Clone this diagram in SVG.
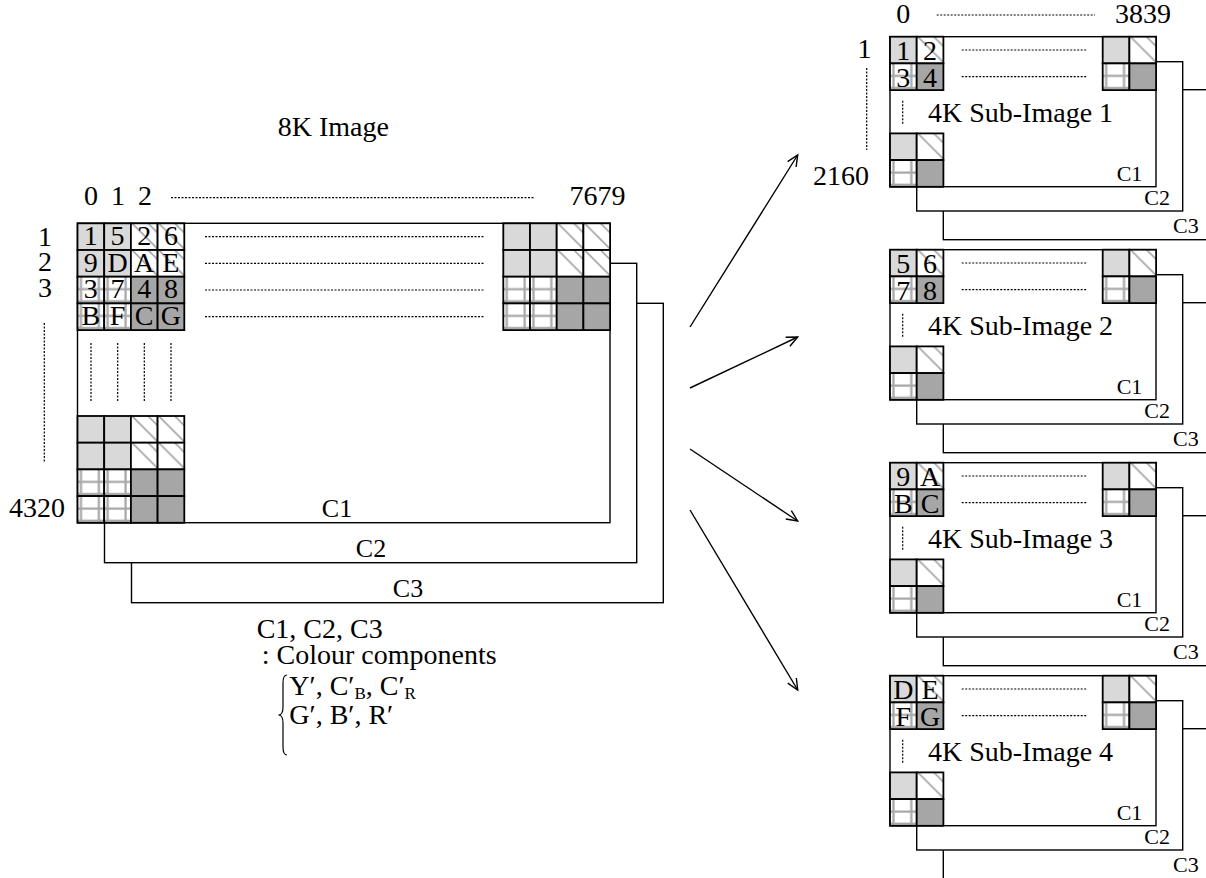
<svg xmlns="http://www.w3.org/2000/svg" xmlns:xlink="http://www.w3.org/1999/xlink" width="1206" height="878" viewBox="0 0 1206 878" font-family="Liberation Serif, Tinos, DejaVu Serif, serif">
<style>
text{font-family:'Liberation Serif','Tinos','DejaVu Serif',serif;fill:#000;font-size:28px}
.c{text-anchor:middle}
.e{text-anchor:end}
.sm{font-size:22px}
.m{font-size:26px}
.lg{fill:#d9d9d9;stroke:#000;stroke-width:1.8}
.dk{fill:#a6a6a6;stroke:#000;stroke-width:1.8}
.ht{fill:url(#hatch);stroke:#000;stroke-width:1.8}
.cr{fill:url(#cross);stroke:#000;stroke-width:1.8}
.fr{fill:#fff;stroke:#000;stroke-width:1.4}
.dot{fill:none;stroke:#000;stroke-width:1.2;stroke-dasharray:2 1.5}
.arr{fill:none;stroke:#000;stroke-width:1.4;marker-end:url(#ah)}
</style>
<defs>
<pattern id="hatch" patternUnits="objectBoundingBox" patternContentUnits="objectBoundingBox" width="1" height="1">
<rect x="0" y="0" width="1" height="1" fill="#fff"/>
<path d="M0.04,0 L1,0.96 M0.64,0 L1,0.36" stroke="#a0a0a0" stroke-width="0.06" fill="none"/>
</pattern>
<pattern id="cross" patternUnits="objectBoundingBox" patternContentUnits="objectBoundingBox" width="1" height="1">
<rect x="0" y="0" width="1" height="1" fill="#fff"/>
<path d="M0.13,0 V1 M0.8,0 V1 M0,0.47 H1 M0,0.92 H1" stroke="#a8a8a8" stroke-width="0.085" fill="none"/>
</pattern>
<marker id="ah" markerUnits="userSpaceOnUse" markerWidth="16" markerHeight="16" viewBox="-14 -8 16 16" refX="0" refY="0" orient="auto">
<path d="M-11,-5 L0,0 L-11,5" fill="none" stroke="#000" stroke-width="1.4"/>
</marker>
<g id="g4">
<rect class="lg" x="0" y="0" width="26.7" height="26.7"/>
<rect class="lg" x="26.7" y="0" width="26.7" height="26.7"/>
<rect class="ht" x="53.4" y="0" width="26.7" height="26.7"/>
<rect class="ht" x="80.1" y="0" width="26.7" height="26.7"/>
<rect class="lg" x="0" y="26.7" width="26.7" height="26.7"/>
<rect class="lg" x="26.7" y="26.7" width="26.7" height="26.7"/>
<rect class="ht" x="53.4" y="26.7" width="26.7" height="26.7"/>
<rect class="ht" x="80.1" y="26.7" width="26.7" height="26.7"/>
<rect class="cr" x="0" y="53.4" width="26.7" height="26.7"/>
<rect class="cr" x="26.7" y="53.4" width="26.7" height="26.7"/>
<rect class="dk" x="53.4" y="53.4" width="26.7" height="26.7"/>
<rect class="dk" x="80.1" y="53.4" width="26.7" height="26.7"/>
<rect class="cr" x="0" y="80.1" width="26.7" height="26.7"/>
<rect class="cr" x="26.7" y="80.1" width="26.7" height="26.7"/>
<rect class="dk" x="53.4" y="80.1" width="26.7" height="26.7"/>
<rect class="dk" x="80.1" y="80.1" width="26.7" height="26.7"/>
</g>
<g id="g2">
<rect class="lg" x="0" y="0" width="26.7" height="26.7"/>
<rect class="ht" x="26.7" y="0" width="26.7" height="26.7"/>
<rect class="cr" x="0" y="26.7" width="26.7" height="26.7"/>
<rect class="dk" x="26.7" y="26.7" width="26.7" height="26.7"/>
</g>
<g id="subframe">
<rect class="fr" x="943.3" y="53" width="320" height="150"/>
<rect class="fr" x="916.7" y="25" width="266" height="149.3"/>
<rect class="fr" x="890" y="0" width="266" height="150"/>
<use xlink:href="#g2" href="#g2" x="890" y="0"/>
<use xlink:href="#g2" href="#g2" x="1102.7" y="0"/>
<use xlink:href="#g2" href="#g2" x="890" y="96.7"/>
<line class="dot" x1="961.7" y1="13.3" x2="1086.7" y2="13.3"/>
<line class="dot" x1="961.7" y1="40" x2="1086.7" y2="40"/>
<line class="dot" x1="902.7" y1="64" x2="902.7" y2="87"/>
<text class="sm" x="1116.7" y="144.5">C1</text>
<text class="sm" x="1144.3" y="168">C2</text>
<text class="sm" x="1173" y="196">C3</text>
</g>
</defs>

<g id="image8k">
<rect class="fr" x="131.5" y="303.3" width="531.8" height="299.4"/>
<rect class="fr" x="104.5" y="263.3" width="532.2" height="299.4"/>
<rect class="fr" x="77.5" y="223.3" width="532.5" height="299.4"/>
<use xlink:href="#g4" href="#g4" x="77.5" y="223.3"/>
<use xlink:href="#g4" href="#g4" x="503.3" y="223.3"/>
<use xlink:href="#g4" href="#g4" x="77.5" y="416"/>
<text x="277.7" y="136">8K Image</text>
<text class="c" x="91" y="205">0</text>
<text class="c" x="118" y="205">1</text>
<text class="c" x="145" y="205">2</text>
<line class="dot" x1="171" y1="197.7" x2="535" y2="197.7"/>
<text x="569.5" y="205">7679</text>
<text class="c" x="45" y="246">1</text>
<text class="c" x="45" y="271">2</text>
<text class="c" x="45" y="297">3</text>
<line class="dot" x1="44.3" y1="323" x2="44.3" y2="462"/>
<text class="e" x="65" y="517">4320</text>
<text class="c" x="90.8" y="245">1</text>
<text class="c" x="117.5" y="245">5</text>
<text class="c" x="144.2" y="245">2</text>
<text class="c" x="170.9" y="245">6</text>
<text class="c" x="90.8" y="271.7">9</text>
<text class="c" x="117.5" y="271.7">D</text>
<text class="c" x="144.2" y="271.7">A</text>
<text class="c" x="170.9" y="271.7">E</text>
<text class="c" x="90.8" y="298.4">3</text>
<text class="c" x="117.5" y="298.4">7</text>
<text class="c" x="144.2" y="298.4">4</text>
<text class="c" x="170.9" y="298.4">8</text>
<text class="c" x="90.8" y="325">B</text>
<text class="c" x="117.5" y="325">F</text>
<text class="c" x="144.2" y="325">C</text>
<text class="c" x="170.9" y="325">G</text>
<line class="dot" x1="205" y1="236.7" x2="485" y2="236.7"/>
<line class="dot" x1="205" y1="263.3" x2="485" y2="263.3"/>
<line class="dot" x1="205" y1="290" x2="485" y2="290"/>
<line class="dot" x1="205" y1="316.7" x2="485" y2="316.7"/>
<line class="dot" x1="91" y1="343" x2="91" y2="402"/>
<line class="dot" x1="117.7" y1="343" x2="117.7" y2="402"/>
<line class="dot" x1="144.3" y1="343" x2="144.3" y2="402"/>
<line class="dot" x1="171" y1="343" x2="171" y2="402"/>
<text class="c m" x="337" y="517">C1</text>
<text class="c m" x="371" y="557">C2</text>
<text class="c m" x="408" y="597">C3</text>
</g>

<g id="legend">
<text x="256.7" y="638">C1, C2, C3</text>
<text x="261.7" y="664">: Colour components</text>
<path d="M287,675 C283.5,675 283,678 283,683 L283,707 C283,712 282,715 278.5,715 C282,715 283,718 283,723 L283,747 C283,752 283.5,755 287,755" fill="none" stroke="#000" stroke-width="1.2"/>
<text x="289.3" y="695">Y′, C′<tspan font-size="17" dy="4">B</tspan><tspan dy="-4">, C′</tspan><tspan font-size="17" dy="4">R</tspan></text>
<text x="289.3" y="724">G′, B′, R′</text>
</g>

<g id="connectors">
<line class="arr" x1="690" y1="327" x2="797.7" y2="155"/>
<line class="arr" x1="690" y1="388" x2="797.7" y2="337"/>
<line class="arr" x1="690" y1="449" x2="797.7" y2="521"/>
<line class="arr" x1="690" y1="510" x2="797.7" y2="690"/>
</g>

<g id="sub1">
<use xlink:href="#subframe" href="#subframe" transform="translate(0,36.7)"/>
<text class="c" x="903.3" y="59.9">1</text>
<text class="c" x="930" y="59.9">2</text>
<text class="c" x="903.3" y="86.5">3</text>
<text class="c" x="930" y="86.5">4</text>
<text x="928" y="121.7">4K Sub-Image 1</text>
<text class="c" x="903.3" y="23">0</text>
<line class="dot" x1="936.7" y1="15" x2="1095" y2="15"/>
<text x="1115" y="23">3839</text>
<text class="c" x="864.5" y="58">1</text>
<line class="dot" x1="866.7" y1="68" x2="866.7" y2="150"/>
<text class="e" x="869" y="185">2160</text>
</g>

<g id="sub2">
<use xlink:href="#subframe" href="#subframe" transform="translate(0,249.7)"/>
<text class="c" x="903.3" y="272.9">5</text>
<text class="c" x="930" y="272.9">6</text>
<text class="c" x="903.3" y="299.5">7</text>
<text class="c" x="930" y="299.5">8</text>
<text x="928" y="334.7">4K Sub-Image 2</text>
</g>

<g id="sub3">
<use xlink:href="#subframe" href="#subframe" transform="translate(0,462.7)"/>
<text class="c" x="903.3" y="485.9">9</text>
<text class="c" x="930" y="485.9">A</text>
<text class="c" x="903.3" y="512.5">B</text>
<text class="c" x="930" y="512.5">C</text>
<text x="928" y="547.7">4K Sub-Image 3</text>
</g>

<g id="sub4">
<use xlink:href="#subframe" href="#subframe" transform="translate(0,675.7)"/>
<text class="c" x="903.3" y="698.9">D</text>
<text class="c" x="930" y="698.9">E</text>
<text class="c" x="903.3" y="725.5">F</text>
<text class="c" x="930" y="725.5">G</text>
<text x="928" y="760.7">4K Sub-Image 4</text>
</g>
</svg>
